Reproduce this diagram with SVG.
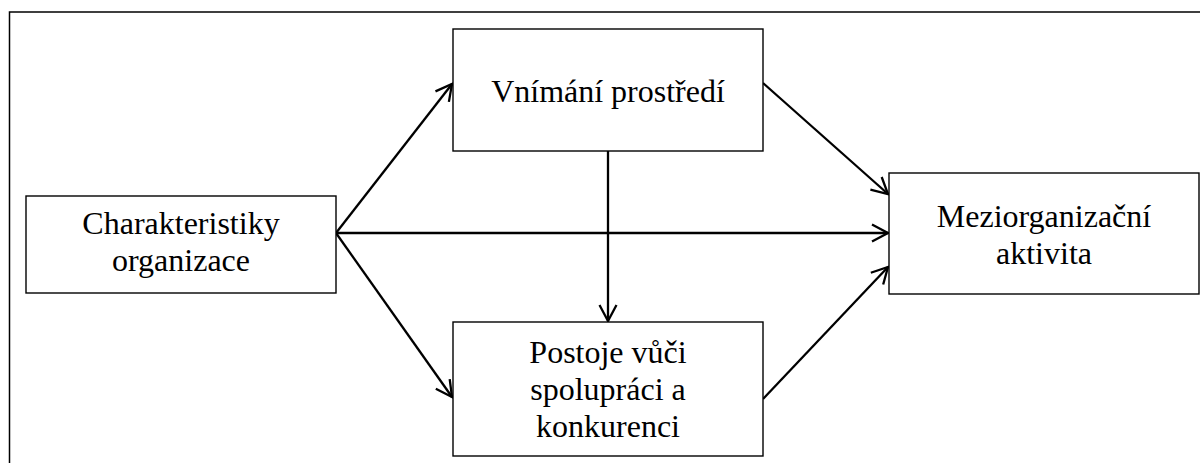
<svg xmlns="http://www.w3.org/2000/svg" width="1200" height="463" viewBox="0 0 1200 463">
<style>
.box{fill:#fff;stroke:#000;stroke-width:1.4}
.frame{fill:none;stroke:#000;stroke-width:1.5}
.t{font-family:"Liberation Serif","Times New Roman",serif;font-size:32px;fill:#000;text-anchor:middle}
.c{stroke:#000;stroke-width:2.3;fill:none;marker-end:url(#ah)}
</style>
<defs>
<marker id="ah" viewBox="-17 -10 19 20" refX="0" refY="0" markerWidth="19" markerHeight="20" markerUnits="userSpaceOnUse" orient="auto">
<path d="M-16,-8.5 L0,0 L-16,8.5" fill="none" stroke="#000" stroke-width="2.3"/>
</marker>
</defs>
<rect class="frame" x="9.5" y="12" width="1200" height="470"/>
<g id="connectors">
<line class="c" x1="336" y1="233" x2="452" y2="84"/>
<line class="c" x1="336" y1="233" x2="888" y2="233"/>
<line class="c" x1="336" y1="233" x2="452" y2="397"/>
<line class="c" x1="608" y1="151" x2="608" y2="321"/>
<line class="c" x1="763" y1="83" x2="888" y2="194"/>
<line class="c" x1="763" y1="399" x2="888" y2="267"/>
</g>
<g id="charakteristiky">
<rect class="box" x="26" y="196" width="310" height="97"/>
<text class="t" x="181" y="234">Charakteristiky</text>
<text class="t" x="181" y="271">organizace</text>
</g>
<g id="vnimani">
<rect class="box" x="453" y="29" width="310" height="122"/>
<text class="t" x="608" y="102">Vnímání prostředí</text>
</g>
<g id="postoje">
<rect class="box" x="453" y="322" width="310" height="134"/>
<text class="t" x="608" y="363">Postoje vůči</text>
<text class="t" x="608" y="400">spolupráci a</text>
<text class="t" x="608" y="437">konkurenci</text>
</g>
<g id="meziorganizacni">
<rect class="box" x="889" y="173" width="310" height="121"/>
<text class="t" x="1044" y="227">Meziorganizační</text>
<text class="t" x="1044" y="264">aktivita</text>
</g>
</svg>
